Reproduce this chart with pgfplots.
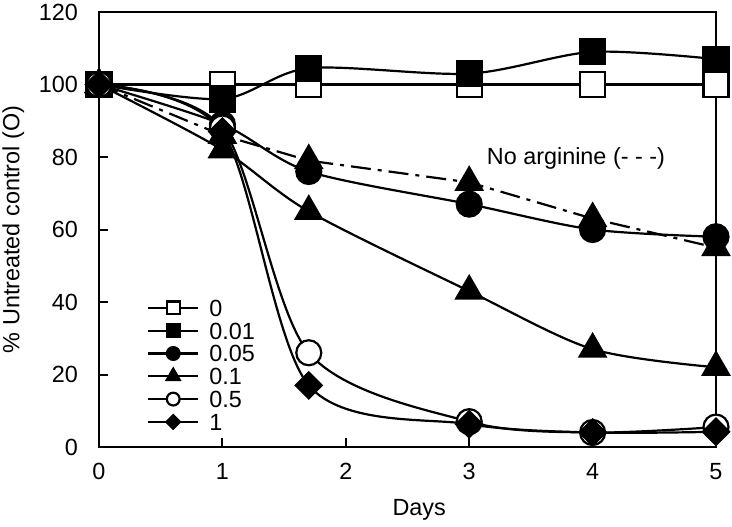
\documentclass[border=0pt]{standalone}
\usepackage{fontspec}
\setmainfont{Liberation Sans}
\usepackage{pgfplots}
\pgfplotsset{compat=1.18}
\newcommand\cf{\fontsize{11.7pt}{13pt}\selectfont}

\begin{document}
\begin{tikzpicture}
\begin{axis}[
  scale only axis, width=308.5pt, height=217.5pt,
  xmin=0, xmax=5, ymin=0, ymax=120,
  xtick={0,1,2,3,4,5}, ytick={0,20,...,120},
  tick pos=left, tick align=inside, major tick length=4.5pt,
  axis line style={line width=1pt},
  every tick/.style={line width=1pt, black},
  tick label style={font=\cf},
  /pgf/number format/assume math mode=true,
  yticklabel style={xshift=-7pt},
  xticklabel style={yshift=-4.5pt},
  xlabel={Days}, ylabel={\% Untreated control (O)},
  label style={font=\cf},
  xlabel style={at={(axis description cs:0.519,-0.145)}, anchor=center},
  ylabel style={at={(axis description cs:-0.139,0.5)}, anchor=center},
  clip=false,
  legend style={at={(axis description cs:0.078,0.346)}, anchor=north west,
    draw=none, fill=none, inner sep=0pt, outer sep=0pt,
    column sep=5pt, row sep=0pt, font=\cf,
    nodes={inner sep=0pt, text height=9.9pt, text depth=1.5pt}},
  legend cell align=left,
  legend image code/.code={\draw[mark repeat=2,mark phase=2]
    plot coordinates {(0pt,0pt)(12.5pt,0pt)(25pt,0pt)};},
  every axis plot/.append style={line width=1.1pt, black},
]
% 0
\addplot[mark=square*, mark size=6.25pt, mark options={fill=white, solid}, forget plot]
  coordinates {(0,100)(1,100)(1.7,100)(3,100)(4,100)(5,100)};
% no arginine
\addplot[dash pattern=on 10pt off 3.5pt on 2pt off 3.5pt, mark=triangle*, mark size=7.5pt,
  mark options={fill=black, solid}, forget plot]
  coordinates {(0,100)(1,86)(1.7,79)(3,73)(4,63)(5,55)};
% 0.01
\addplot[smooth, mark=square*, mark size=6.25pt, mark options={fill=black, solid}, forget plot]
  coordinates {(0,100)(1,96)(1.7,104.5)(3,103)(4,109)(5,107)};
% 0.05
\addplot[smooth, mark=*, mark size=6.25pt, mark options={fill=black, solid}, forget plot]
  coordinates {(0,100)(1,89)(1.7,76)(3,67)(4,60)(5,58)};
% 0.1
\addplot[smooth, mark=triangle*, mark size=7.5pt, mark options={fill=black, solid}, forget plot]
  coordinates {(0,100)(1,82)(1.7,65)(3,43)(4,27)(5,22)};
% 0.5
\addplot[smooth, mark=*, mark size=6.25pt, mark options={fill=white, solid}, forget plot]
  coordinates {(0,100)(1,88)(1.7,26)(3,7)(4,4)(5,5.5)};
% 1
\addplot[smooth, mark=square*, mark size=4.6pt, mark options={fill=black, solid, rotate=45}, forget plot]
  coordinates {(0,100)(1,87)(1.7,17)(3,6.3)(4,4)(5,4.2)};

\addlegendimage{line width=1.1pt, mark=square*, mark size=3.2pt, mark options={fill=white}}
\addlegendentry{0}
\addlegendimage{line width=1.1pt, mark=square*, mark size=3.2pt, mark options={fill=black}}
\addlegendentry{0.01}
\addlegendimage{line width=1.1pt, mark=*, mark size=3.2pt, mark options={fill=black}}
\addlegendentry{0.05}
\addlegendimage{line width=1.1pt, mark=triangle*, mark size=3.8pt, mark options={fill=black}}
\addlegendentry{0.1}
\addlegendimage{line width=1.1pt, mark=*, mark size=3.2pt, mark options={fill=white}}
\addlegendentry{0.5}
\addlegendimage{line width=1.1pt, mark=square*, mark size=2.4pt, mark options={fill=black, rotate=45}}
\addlegendentry{1}

\node[anchor=west, font=\cf, inner sep=0pt] at (axis cs:3.14,79.7) {No arginine (- - -)};
\end{axis}
\pgfresetboundingbox
\path[use as bounding box] ([xshift=-49.5pt,yshift=-39.5pt]current axis.south west)
  rectangle ([xshift=8pt,yshift=6pt]current axis.north east);
\end{tikzpicture}
\end{document}
